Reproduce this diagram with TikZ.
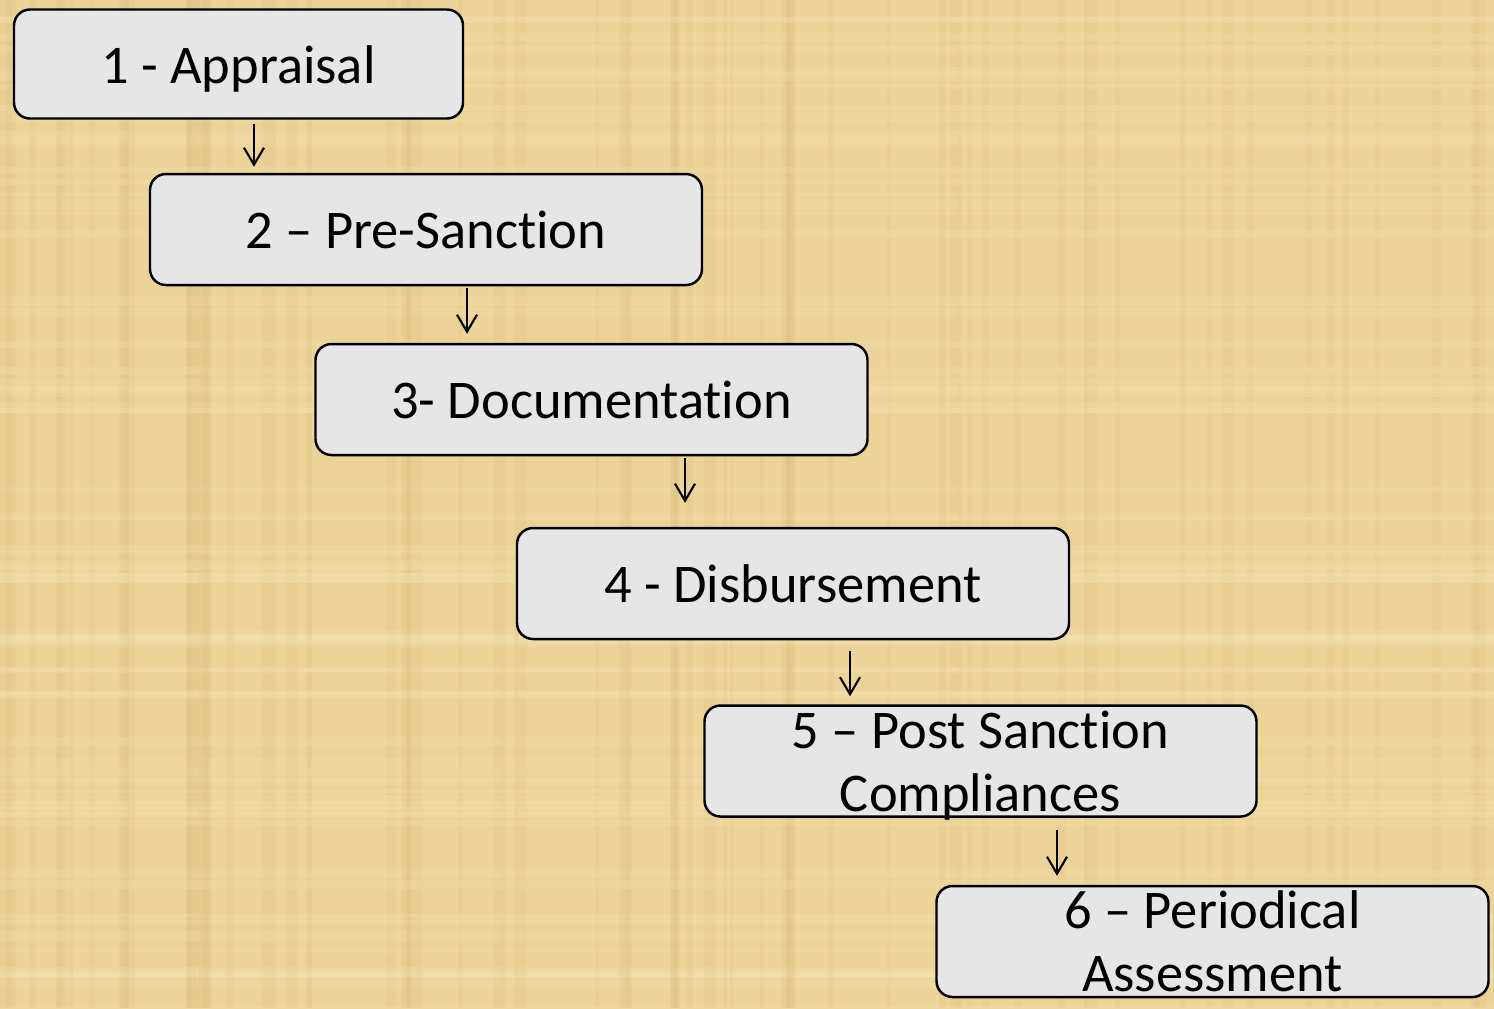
\documentclass[tikz,border=0pt]{standalone}
\usepackage{fontspec}
\setmainfont{Carlito}[RawFeature={-liga;-clig;-dlig;-calt}]
\usetikzlibrary{arrows.meta}
\definecolor{parchment}{RGB}{236,211,152}
\definecolor{parchdark}{RGB}{214,184,118}
\definecolor{parchlight}{RGB}{246,230,182}
\definecolor{boxgray}{RGB}{230,230,230}
\tikzset{
  stage/.style={draw=black, fill=boxgray, line width=0.7pt, rounded corners=1.6mm,
    minimum width=55.2mm, minimum height=11.1mm, inner sep=0pt, align=center,
    font=\fontsize{15.5}{18}\selectfont},
  single/.style={text height=4.8mm, text depth=1mm},
  flow/.style={-{Straight Barb[length=1.7mm,width=2mm]}, line width=0.6pt}
}
\begin{document}
\begin{tikzpicture}[x=0.1mm, y=-0.1mm]
  \useasboundingbox (0,0) rectangle (1494,1008);
  % background
  \fill[parchment] (-5,-5) rectangle (1499,1013);
  \pgfmathsetseed{7}
  \foreach \i in {1,...,70} {
    \pgfmathsetmacro\px{rnd*1494}
    \pgfmathsetmacro\py{rnd*1008}
    \fill[parchdark, opacity=0.18] (\px,0) rectangle ++(3+rnd*9,1008);
    \fill[parchlight, opacity=0.25] (0,\py) rectangle ++(1494,3+rnd*8);
  }

  % stages
  \node[stage, single, minimum width=44.9mm, minimum height=10.9mm] (s1) at (238.5,64) {1 - Appraisal};
  \node[stage, single] (s2) at (426,229.5) {2 – Pre-Sanction};
  \node[stage, single] (s3) at (591.5,399.5) {3- Documentation};
  \node[stage, single] (s4) at (793,583.5) {4 - Disbursement};
  \node[stage, text depth=0pt] (s5) at (980.5,761) {5 – Post Sanction\\Compliances};
  \node[stage] (s6) at (1212.5,941.5) {6 – Periodical\\Assessment};

  % arrows
  \foreach \a/\b/\dx/\s/\e in {s1/s2/1.55/0.4/0.6, s2/s3/4.1/0.2/0.9, s3/s4/9.35/0.2/2.4, s4/s5/5.7/1.1/0.8, s5/s6/7.65/1.2/0.9}
    \draw[flow, shorten <=\s mm, shorten >=\e mm] ([xshift=\dx mm]\a.south) -- ([xshift=\dx mm]\a.south |- \b.north);
\end{tikzpicture}
\end{document}
